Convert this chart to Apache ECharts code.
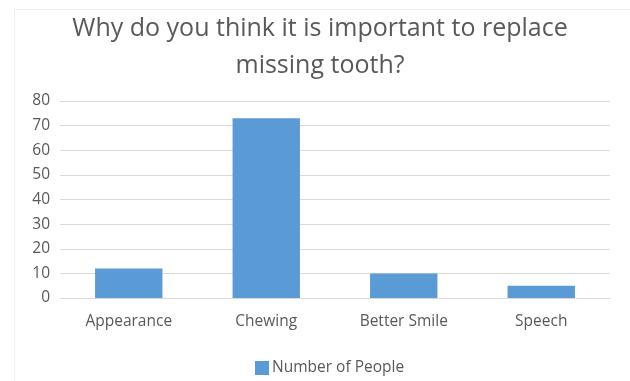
<!DOCTYPE html>
<html><head><meta charset="utf-8">
<script src="https://cdn.jsdelivr.net/npm/echarts@6/dist/echarts.min.js"></script>
<style>html,body{margin:0;padding:0;background:#fff}#c{width:630px;height:381px}</style>
</head><body><div id="c"></div>
<script>
const categories = ["Appearance", "Chewing", "Better Smile", "Speech"];
const values = [12, 73, 10, 5];
const seriesName = "Number of People";
const titleText = "Why do you think it is important to replace\nmissing tooth?";

const chart = echarts.init(document.getElementById('c'));
chart.setOption({
  animation: false,
  graphic: [{
    type: 'rect', left: 12, top: 7, silent: true, z: -1,
    shape: { width: 617, height: 380 },
    style: { fill: 'none', stroke: '#eeeeee', lineWidth: 1 }
  }],
  title: {
    text: titleText, left: 320, textAlign: 'center', top: 10, padding: 0,
    textStyle: { fontFamily: 'Open Sans', fontSize: 25, fontWeight: 'normal', color: '#595959', lineHeight: 37 }
  },
  legend: {
    bottom: 0, left: 250, itemWidth: 14, itemHeight: 14, itemGap: 3,
    icon: 'rect',
    textStyle: { fontFamily: 'Open Sans', fontSize: 15.5, color: '#595959', padding: [0, 0, 0, -2] },
    data: [seriesName]
  },
  grid: { left: 60, right: 20, top: 101, bottom: 83, containLabel: false },
  xAxis: {
    type: 'category', data: categories,
    axisLine: { lineStyle: { color: '#d9d9d9' } },
    axisTick: { show: false },
    axisLabel: { fontFamily: 'Open Sans', fontSize: 15.5, color: '#595959', margin: 16 }
  },
  yAxis: {
    type: 'value', min: 0, max: 80, interval: 10,
    axisLine: { show: false }, axisTick: { show: false },
    axisLabel: { fontFamily: 'Open Sans', fontSize: 15.5, color: '#595959', margin: 10 },
    splitLine: { lineStyle: { color: '#d9d9d9', width: 1 } }
  },
  series: [{
    name: seriesName, type: 'bar', data: values, barWidth: '49%',
    itemStyle: { color: '#5b9bd5' }
  }]
});
</script></body></html>
